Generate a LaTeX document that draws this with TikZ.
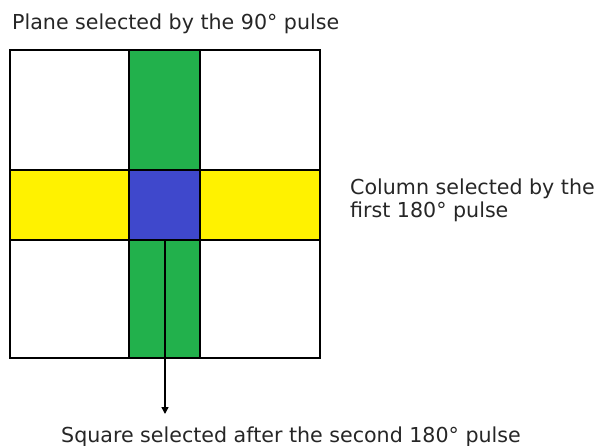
\documentclass[tikz,border=0pt]{standalone}
\usepackage{fontspec}
\setmainfont{DejaVu Sans}
\usetikzlibrary{arrows.meta}
\definecolor{pgreen}{HTML}{22B14C}
\definecolor{pyellow}{HTML}{FFF200}
\definecolor{pblue}{HTML}{3F48CC}
\begin{document}
\begin{tikzpicture}[x=1pt,y=-1pt,
  grid/.style={draw=black,line width=2pt},
  lbl/.style={font=\fontsize{20.6}{23}\selectfont,text=black!85,inner sep=0pt}]
\useasboundingbox (0,0) rectangle (595,445);
% coloured bands of the slice
\fill[white] (10,50) rectangle (320,358);
\fill[pgreen] (129,50) rectangle (200,358);
\fill[pyellow] (10,170) rectangle (320,240);
\fill[pblue] (129,170) rectangle (200,240);
% grid lines
\draw[grid] (10,50) rectangle (320,358);
\draw[grid] (129,50) -- (129,358) (200,50) -- (200,358);
\draw[grid] (10,170) -- (320,170) (10,240) -- (320,240);
% labels
\node[lbl,anchor=base west] (plane) at (12,29) {Plane selected by the 90° pulse};
\node[lbl,anchor=west,align=left] (column) at (350,200) {Column selected by the\\first 180° pulse};
\node[lbl,anchor=base] (square) at (291,442) {Square selected after the second 180° pulse};
\coordinate (start) at (165,240);
\coordinate (tip) at (165,414);
\draw[line width=1.5pt,-{Triangle[length=7pt,width=7pt]}] (start) -- (tip);
\end{tikzpicture}
\end{document}
